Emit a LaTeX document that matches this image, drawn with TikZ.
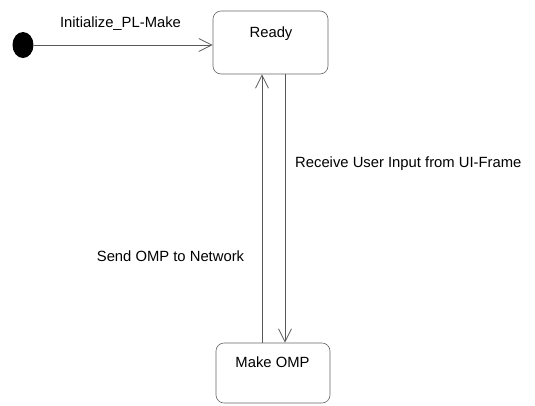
\documentclass[tikz,border=0pt]{standalone}
\usepackage{fontspec}
\setmainfont{Liberation Sans}
\usetikzlibrary{arrows.meta,shapes.geometric}
\begin{document}
\begin{tikzpicture}[x=1pt,y=-1pt,
  state/.style={draw=black!60, line width=0.6pt, rounded corners=8pt, inner sep=0pt},
  txt/.style={font=\fontsize{14.8}{17}\selectfont, inner sep=0pt, anchor=base},
  trans/.style={draw=black!65, line width=0.6pt,
    -{Straight Barb[length=13pt,width=13pt,line width=0.8pt]}},
]
\useasboundingbox (0,0) rectangle (535,405);

% initial pseudo-state
\node[ellipse, fill=black, minimum width=21pt, minimum height=26pt, inner sep=0pt] (init) at (23,45) {};

% states
\node[state, minimum width=115pt, minimum height=63pt] (ready) at (270.5,42.5) {};
\node[state, minimum width=114pt, minimum height=60pt] (omp) at (273,373) {};
\node[txt] (readylbl) at (271,37) {Ready};
\node[txt] (omplbl) at (272.5,367) {Make OMP};

% transition labels
\node[txt] (initlbl) at (120.5,27) {Initialize\_PL-Make};
\node[txt, anchor=base west] (recvlbl) at (295,167) {Receive User Input from UI-Frame};
\node[txt] (sendlbl) at (170.5,261) {Send OMP to Network};

% transitions
\coordinate (upx) at (262,0);
\coordinate (downx) at (285,0);
\draw[trans] (init.east) -- (init.east -| ready.west);
\draw[trans] (omp.north -| upx) -- (ready.south -| upx);
\draw[trans] (ready.south -| downx) -- (omp.north -| downx);
\end{tikzpicture}
\end{document}
